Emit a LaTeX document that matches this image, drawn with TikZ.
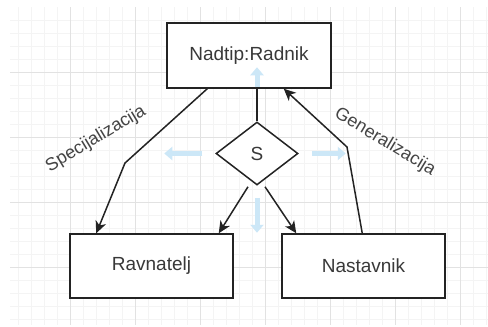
\documentclass[tikz,border=0pt]{standalone}
\usepackage{fontspec}
\setmainfont{Liberation Sans}
\usetikzlibrary{shapes.geometric,arrows.meta}
\definecolor{gridmajor}{RGB}{226,226,226}
\definecolor{gridminor}{RGB}{244,244,244}
\definecolor{hintblue}{RGB}{204,231,247}
\definecolor{ink}{RGB}{35,35,35}

\begin{document}
\begin{tikzpicture}[
  x=1pt, y=-1pt,
  entity/.style = {draw=ink, line width=1.5pt, fill=white, minimum width=164pt,
                   minimum height=65pt, inner sep=0pt, text=ink!90,
                   font=\fontsize{19}{22}\selectfont},
  isa/.style = {diamond, draw=ink, line width=1.5pt, fill=white, minimum width=82pt,
                minimum height=63pt, inner sep=0pt, text=ink!90,
                font=\fontsize{19}{22}\selectfont},
  conn/.style = {line width=1.5pt, draw=ink},
  tip/.style = {conn, -{Stealth[length=12pt,width=11pt,inset=3.5pt]}},
  hint/.style = {line width=5pt, draw=hintblue, -{Triangle[length=8pt,width=13pt]}},
  lbl/.style = {text=ink!85, font=\fontsize{18}{21}\selectfont, inner sep=0pt}
  ]
  \useasboundingbox[fill=white] (0,0) rectangle (488,327);
  % grid
  \foreach \x in {18,31,...,488} \draw[gridminor, line width=0.6pt] (\x,7) -- (\x,325);
  \foreach \y in {20,33,...,325} \draw[gridminor, line width=0.6pt] (10,\y) -- (488,\y);
  \foreach \x in {70,135,...,488} \draw[gridmajor, line width=0.8pt] (\x,7) -- (\x,325);
  \foreach \y in {72,137,...,325} \draw[gridmajor, line width=0.8pt] (10,\y) -- (488,\y);

  \node[entity] (nadtip)    at (249,55.5) {Nadtip:Radnik};
  \node[entity, minimum width=163pt, minimum height=64pt] (ravnatelj) at (151.5,266) {Ravnatelj};
  \node[entity, minimum width=163pt, minimum height=64pt] (nastavnik) at (363.5,266) {Nastavnik};
  \node[isa] (s) at (257,153.5) {S};

  % hover hints
  \draw[hint] ([yshift=34pt]s.north) -- ([yshift=54pt]s.north);
  \draw[hint] ([xshift=-13pt]s.west) -- ([xshift=-51pt]s.west);
  \draw[hint] ([xshift=13pt]s.east) -- ([xshift=47pt]s.east);
  \draw[hint] ([yshift=-12pt]s.south) -- ([yshift=-47pt]s.south);

  \coordinate (bendS) at (125,163);
  \coordinate (bendG) at (347,147);
  \draw[conn] (s.north) -- (s.north |- nadtip.south);
  \draw[tip] ([xshift=41pt]nadtip.south west) -- (bendS) -- ([xshift=27pt]ravnatelj.north west);
  \draw[tip] ([xshift=-9pt,yshift=-1pt]s.south) -- ([xshift=-15pt]ravnatelj.north east);
  \draw[tip] ([xshift=8pt,yshift=-1pt]s.south) -- ([xshift=15pt]nastavnik.north west);
  \draw[tip] ([xshift=81pt]nastavnik.north west) -- (bendG) -- ([xshift=-48pt]nadtip.south east);

  \node[lbl, rotate=31]  (spec) at (96,139)  {Specijalizacija};
  \node[lbl, rotate=-31] (gen)  at (385,142) {Generalizacija};
\end{tikzpicture}
\end{document}
